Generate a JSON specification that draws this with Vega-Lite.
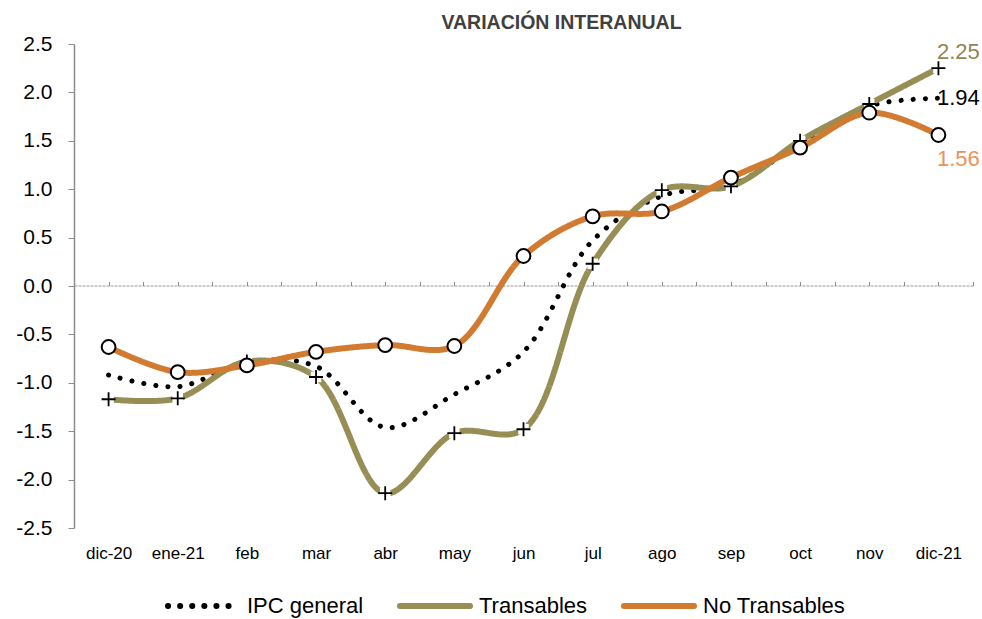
{
  "$schema": "https://vega.github.io/schema/vega-lite/v6.json",
  "width": 899,
  "height": 484,
  "autosize": {"type": "none"},
  "padding": {"left": 74, "top": 44, "right": 9, "bottom": 91},
  "title": {"text": "VARIACIÓN INTERANUAL", "font": "Liberation Sans", "fontSize": 19.5, "fontWeight": "bold", "color": "#404040", "dx": 38, "offset": 0},
  "config": {"view": {"stroke": null}, "font": "Liberation Sans"},
  "data": {"values": [
    {"i": 0, "mes": "dic-20", "serie": "IPC general", "v": -0.92},
    {"i": 1, "mes": "ene-21", "serie": "IPC general", "v": -1.04},
    {"i": 2, "mes": "feb", "serie": "IPC general", "v": -0.79},
    {"i": 3, "mes": "mar", "serie": "IPC general", "v": -0.83},
    {"i": 4, "mes": "abr", "serie": "IPC general", "v": -1.46},
    {"i": 5, "mes": "may", "serie": "IPC general", "v": -1.12},
    {"i": 6, "mes": "jun", "serie": "IPC general", "v": -0.68},
    {"i": 7, "mes": "jul", "serie": "IPC general", "v": 0.47},
    {"i": 8, "mes": "ago", "serie": "IPC general", "v": 0.93},
    {"i": 9, "mes": "sep", "serie": "IPC general", "v": 1.04},
    {"i": 10, "mes": "oct", "serie": "IPC general", "v": 1.47},
    {"i": 11, "mes": "nov", "serie": "IPC general", "v": 1.86},
    {"i": 12, "mes": "dic-21", "serie": "IPC general", "v": 1.94},
    {"i": 0, "mes": "dic-20", "serie": "Transables", "v": -1.17},
    {"i": 1, "mes": "ene-21", "serie": "Transables", "v": -1.16},
    {"i": 2, "mes": "feb", "serie": "Transables", "v": -0.78},
    {"i": 3, "mes": "mar", "serie": "Transables", "v": -0.94},
    {"i": 4, "mes": "abr", "serie": "Transables", "v": -2.14},
    {"i": 5, "mes": "may", "serie": "Transables", "v": -1.52},
    {"i": 6, "mes": "jun", "serie": "Transables", "v": -1.48},
    {"i": 7, "mes": "jul", "serie": "Transables", "v": 0.23},
    {"i": 8, "mes": "ago", "serie": "Transables", "v": 0.99},
    {"i": 9, "mes": "sep", "serie": "Transables", "v": 1.03},
    {"i": 10, "mes": "oct", "serie": "Transables", "v": 1.5},
    {"i": 11, "mes": "nov", "serie": "Transables", "v": 1.88},
    {"i": 12, "mes": "dic-21", "serie": "Transables", "v": 2.25},
    {"i": 0, "mes": "dic-20", "serie": "No Transables", "v": -0.63},
    {"i": 1, "mes": "ene-21", "serie": "No Transables", "v": -0.89},
    {"i": 2, "mes": "feb", "serie": "No Transables", "v": -0.82},
    {"i": 3, "mes": "mar", "serie": "No Transables", "v": -0.68},
    {"i": 4, "mes": "abr", "serie": "No Transables", "v": -0.61},
    {"i": 5, "mes": "may", "serie": "No Transables", "v": -0.62},
    {"i": 6, "mes": "jun", "serie": "No Transables", "v": 0.31},
    {"i": 7, "mes": "jul", "serie": "No Transables", "v": 0.72},
    {"i": 8, "mes": "ago", "serie": "No Transables", "v": 0.77},
    {"i": 9, "mes": "sep", "serie": "No Transables", "v": 1.12},
    {"i": 10, "mes": "oct", "serie": "No Transables", "v": 1.43},
    {"i": 11, "mes": "nov", "serie": "No Transables", "v": 1.79},
    {"i": 12, "mes": "dic-21", "serie": "No Transables", "v": 1.56}
  ]},
  "encoding": {
    "x": {"field": "i", "type": "quantitative", "scale": {"domain": [-0.5, 12.5], "nice": false, "zero": false}, "axis": null},
    "y": {"field": "v", "type": "quantitative", "scale": {"domain": [-2.5, 2.5], "nice": false},
      "axis": {"values": [-2.5, -2, -1.5, -1, -0.5, 0, 0.5, 1, 1.5, 2, 2.5], "labelExpr": "replace(format(datum.value, '.1f'), '−', '-')", "title": null, "grid": false, "domainColor": "#8c8c8c", "domainWidth": 1.5, "tickColor": "#8c8c8c", "tickSize": 6, "labelFontSize": 21, "labelColor": "#000000", "labelPadding": 16, "labelFont": "Liberation Sans"}}
  },
  "resolve": {"axis": {"x": "independent"}},
  "layer": [
    {
      "transform": [{"filter": "datum.serie == 'IPC general'"}],
      "mark": {"type": "line", "interpolate": "catmull-rom", "strokeWidth": 5, "strokeCap": "round"},
      "encoding": {
        "x": {"field": "i", "type": "quantitative", "scale": {"domain": [-0.5, 12.5], "nice": false, "zero": false},
          "axis": {"orient": "bottom", "values": [0, 1, 2, 3, 4, 5, 6, 7, 8, 9, 10, 11, 12], "labelExpr": "['dic-20','ene-21','feb','mar','abr','may','jun','jul','ago','sep','oct','nov','dic-21'][datum.value]", "domain": false, "ticks": false, "grid": false, "title": null, "labelFontSize": 17, "labelPadding": 17, "labelColor": "#000000", "labelFont": "Liberation Sans"}},
        "color": {"field": "serie", "type": "nominal", "scale": {"domain": ["IPC general", "Transables", "No Transables"], "range": ["#000000", "#968E55", "#D27A30"]},
          "legend": {"orient": "none", "legendX": 91, "legendY": 524, "direction": "horizontal", "title": null, "labelFontSize": 22, "labelColor": "#000000", "labelFont": "Liberation Sans", "symbolSize": 4900, "symbolStrokeWidth": 6, "symbolType": "stroke", "columnPadding": 24, "labelOffset": 6,
            "encode": {"symbols": {"update": {"strokeCap": {"value": "round"}}}}}},
        "strokeDash": {"field": "serie", "type": "nominal", "scale": {"domain": ["IPC general", "Transables", "No Transables"], "range": [[0.1, 12], [1, 0], [1, 0]]},
          "legend": {"orient": "none", "legendX": 91, "legendY": 524, "direction": "horizontal", "title": null, "labelFontSize": 22, "labelColor": "#000000", "labelFont": "Liberation Sans", "symbolSize": 4900, "symbolStrokeWidth": 6, "symbolType": "stroke", "columnPadding": 24, "labelOffset": 6,
            "encode": {"symbols": {"update": {"strokeCap": {"value": "round"}}}}}}
      }
    },
    {
      "transform": [{"filter": "datum.serie == 'Transables'"}],
      "mark": {"type": "line", "interpolate": "catmull-rom", "strokeWidth": 6, "strokeCap": "butt"},
      "encoding": {
        "x": {"field": "i", "type": "quantitative", "scale": {"domain": [-0.5, 12.5], "nice": false, "zero": false},
          "axis": {"orient": "top", "offset": -241.5, "values": [-0.5, 0, 0.5, 1, 1.5, 2, 2.5, 3, 3.5, 4, 4.5, 5, 5.5, 6, 6.5, 7, 7.5, 8, 8.5, 9, 9.5, 10, 10.5, 11, 11.5, 12, 12.5], "labels": false, "domainDash": [3, 1], "domainColor": "#9a9a9a", "domainWidth": 1, "tickColor": "#8c8c8c", "tickSize": 4, "title": null, "grid": false}},
        "color": {"field": "serie", "type": "nominal"},
        "strokeDash": {"field": "serie", "type": "nominal"}
      }
    },
    {
      "transform": [{"filter": "datum.serie == 'Transables'"}],
      "mark": {"type": "point", "shape": "square", "filled": true, "color": "#ffffff", "size": 110, "opacity": 1, "strokeWidth": 0}
    },
    {
      "transform": [{"filter": "datum.serie == 'Transables'"}],
      "mark": {"type": "point", "shape": "M-1,0H1M0,-1V1", "filled": false, "color": "#000000", "size": 196, "opacity": 1, "strokeWidth": 1.8}
    },
    {
      "transform": [{"filter": "datum.serie == 'No Transables'"}],
      "mark": {"type": "line", "interpolate": "catmull-rom", "strokeWidth": 6, "strokeCap": "butt"},
      "encoding": {
        "color": {"field": "serie", "type": "nominal"},
        "strokeDash": {"field": "serie", "type": "nominal"}
      }
    },
    {
      "transform": [{"filter": "datum.serie == 'No Transables'"}],
      "mark": {"type": "point", "shape": "circle", "filled": true, "fill": "#ffffff", "stroke": "#000000", "strokeWidth": 2, "size": 190, "opacity": 1}
    },
    {
      "transform": [{"filter": "datum.i == 12 && datum.serie == 'Transables'"}],
      "mark": {"type": "text", "fontSize": 22, "color": "#8F8752", "align": "center", "baseline": "middle", "dx": 20, "dy": -16, "font": "Liberation Sans"},
      "encoding": {"text": {"field": "v", "type": "quantitative", "format": ".2f"}}
    },
    {
      "transform": [{"filter": "datum.i == 12 && datum.serie == 'IPC general'"}],
      "mark": {"type": "text", "fontSize": 22, "color": "#000000", "align": "center", "baseline": "middle", "dx": 20, "dy": 0, "font": "Liberation Sans"},
      "encoding": {"text": {"field": "v", "type": "quantitative", "format": ".2f"}}
    },
    {
      "transform": [{"filter": "datum.i == 12 && datum.serie == 'No Transables'"}],
      "mark": {"type": "text", "fontSize": 22, "color": "#E6955A", "align": "center", "baseline": "middle", "dx": 20, "dy": 24, "font": "Liberation Sans"},
      "encoding": {"text": {"field": "v", "type": "quantitative", "format": ".2f"}}
    }
  ]
}
